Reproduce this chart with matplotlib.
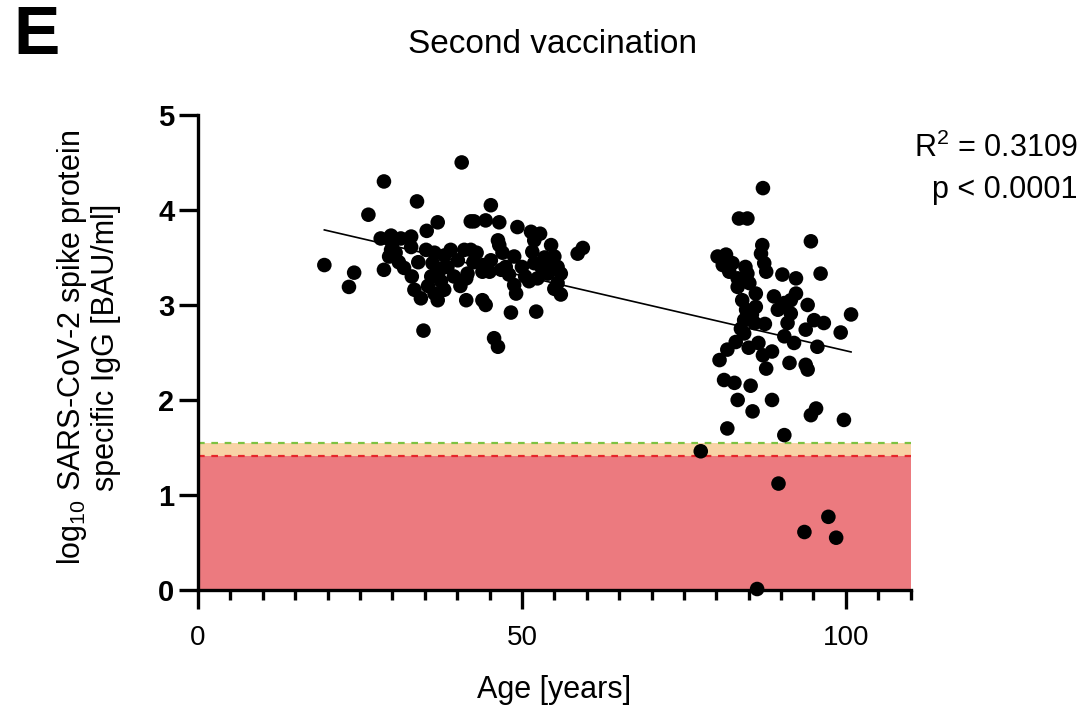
import matplotlib
matplotlib.use('Agg')
import matplotlib.pyplot as plt
from matplotlib.ticker import MultipleLocator
import numpy as np

plt.rcParams['font.family'] = ['Liberation Sans', 'DejaVu Sans']
plt.rcParams['mathtext.fontset'] = 'custom'
plt.rcParams['mathtext.rm'] = 'Liberation Sans'

# Edad (años) y log10 IgG, grupo joven
young_age = [19.5, 23.3, 24.1, 26.3, 28.7, 28.7, 33.8, 40.7, 34.8, 37.0, 35.3, 28.2, 29.8,
             31.3, 32.9, 29.8, 29.5, 31.8, 32.9, 35.2, 36.2, 33.4, 34.4, 36.0, 37.0, 38.0,
             37.5, 39.0, 40.1, 41.1, 41.4, 42.1, 41.6, 45.2, 42.6, 44.4, 46.5, 49.3, 51.4,
             51.9, 46.3, 46.5, 54.5, 59.4, 58.6, 48.8, 51.6, 55.0, 51.9, 42.1, 45.2, 43.9,
             46.8, 41.4, 54.0, 56.0, 51.1, 52.4, 55.5, 48.8, 49.1, 56.0, 43.9, 44.4, 48.3,
             52.2, 45.7, 46.3,
             30.5, 31.0, 33.0, 34.0, 35.5, 36.5, 38.5, 39.5, 40.5, 42.5, 43.0, 44.0, 45.0,
             47.5, 48.0, 50.0, 50.5, 53.0, 53.5, 54.5, 55.5, 38.0, 37.5, 30.0, 47.0, 52.8,
             55.0, 36.5]
young_igg = [3.42, 3.19, 3.34, 3.95, 4.30, 3.37, 4.09, 4.50, 2.73, 3.87, 3.78, 3.70, 3.73,
             3.70, 3.72, 3.58, 3.51, 3.39, 3.61, 3.58, 3.44, 3.16, 3.07, 3.30, 3.05, 3.16,
             3.25, 3.58, 3.47, 3.58, 3.05, 3.88, 3.33, 4.05, 3.88, 3.89, 3.87, 3.82, 3.77,
             3.68, 3.68, 3.63, 3.63, 3.60, 3.54, 3.51, 3.56, 3.51, 3.44, 3.58, 3.47, 3.35,
             3.37, 3.28, 3.33, 3.33, 3.25, 3.28, 3.23, 3.21, 3.12, 3.11, 3.05, 3.00, 2.92,
             2.93, 2.65, 2.56,
             3.55, 3.45, 3.30, 3.45, 3.20, 3.12, 3.40, 3.30, 3.20, 3.45, 3.55, 3.42, 3.35,
             3.40, 3.32, 3.40, 3.30, 3.40, 3.50, 3.42, 3.40, 3.52, 3.38, 3.65, 3.55, 3.75,
             3.17, 3.55]

# Grupo mayor
old_age = [87.2, 83.5, 84.8, 94.6, 87.1, 86.9, 80.2, 81.5, 81.0, 82.5, 87.4, 87.7, 96.1,
           84.8, 90.2, 92.3, 83.3, 83.3, 85.1, 92.3, 86.1, 88.9, 90.5, 94.1, 86.1, 84.6,
           100.8, 91.5, 84.3, 85.9, 95.1, 96.6, 93.8, 91.0, 99.2, 84.3, 90.5, 83.0, 92.0,
           95.6, 81.7, 80.5, 87.2, 88.6, 87.7, 91.3, 93.8, 94.1, 81.2, 82.8, 85.3, 83.3,
           88.6, 85.6, 95.4, 94.6, 99.7, 81.7, 90.5,
           77.6, 89.6, 97.3, 93.6, 98.5, 86.3,
           84.0, 85.5, 83.8, 86.5, 84.5, 82.0, 89.5, 91.5, 87.5, 85.0]
old_igg = [4.23, 3.91, 3.91, 3.67, 3.63, 3.54, 3.51, 3.53, 3.42, 3.44, 3.44, 3.35, 3.33,
           3.33, 3.32, 3.28, 3.28, 3.19, 3.23, 3.12, 3.12, 3.09, 3.02, 3.00, 2.98, 2.95,
           2.90, 2.91, 2.84, 2.81, 2.84, 2.81, 2.74, 2.81, 2.71, 2.70, 2.67, 2.61, 2.60,
           2.56, 2.53, 2.42, 2.47, 2.51, 2.33, 2.39, 2.37, 2.32, 2.21, 2.18, 2.15, 2.00,
           2.00, 1.88, 1.91, 1.84, 1.79, 1.70, 1.63,
           1.46, 1.12, 0.77, 0.61, 0.55, 0.01,
           3.05, 2.90, 2.75, 2.60, 3.40, 3.35, 2.95, 3.05, 2.80, 2.55]

# Regresión lineal y umbrales (log10 de 35.2 y 25.6 BAU/ml)
fit_slope = -0.0158
fit_intercept = 4.098
cut_positive = np.log10(35.2)
cut_negative = np.log10(25.6)

ages = np.array(young_age + old_age)
igg = np.array(young_igg + old_igg)

fig = plt.figure(figsize=(10.88, 7.23), dpi=100)
ax = fig.add_axes([0.182, 0.184, 0.655, 0.657])

ax.axhspan(0, cut_negative, color='#ec7a7f', lw=0, zorder=0)
ax.axhspan(cut_negative, cut_positive, color='#f8d3a6', lw=0, zorder=0)
ax.axhline(cut_positive, color='#7cc242', lw=1.6, ls=(0, (3, 3)), zorder=1)
ax.axhline(cut_negative, color='#e6262b', lw=1.6, ls=(0, (3, 3)), zorder=1)

ax.scatter(ages, igg, s=110, color='black', edgecolors='none', zorder=3, clip_on=False)

xfit = np.array([ages.min(), ages.max()])
ax.plot(xfit, fit_intercept + fit_slope * xfit, color='black', lw=1.2, zorder=4)

ax.set_xlim(0, 110)
ax.set_ylim(0, 5)
for s in ['top', 'right']:
    ax.spines[s].set_visible(False)
for s in ['left', 'bottom']:
    ax.spines[s].set_linewidth(2.4)

ax.xaxis.set_major_locator(MultipleLocator(50))
ax.xaxis.set_minor_locator(MultipleLocator(5))
ax.yaxis.set_major_locator(MultipleLocator(1))
ax.tick_params(axis='x', which='major', length=14, width=2.4, labelsize=20, pad=11)
ax.tick_params(axis='x', which='minor', length=7, width=2.4)
ax.tick_params(axis='y', which='major', length=14, width=2.4, labelsize=21, pad=3)
for lab in ax.get_yticklabels():
    lab.set_fontweight('bold')

ax.set_xlabel('Age [years]', fontsize=22)
ax.xaxis.set_label_coords(0.5, -0.21)
ax.xaxis.label.set_va('center')
ax.set_ylabel('log$_{10}$ SARS-CoV-2 spike protein\nspecific IgG [BAU/ml]',
              fontsize=22, linespacing=1.1)
ax.yaxis.set_label_coords(-0.154, 0.51)
ax.yaxis.label.set_va('center')

fig.text(0.508, 0.938, 'Second vaccination', ha='center', va='center', fontsize=24)
fig.text(0.012, 0.95, 'E', ha='left', va='center', fontsize=50, fontweight='bold')
fig.text(0.99, 0.795, 'R$^2$ = 0.3109', ha='right', va='center', fontsize=22)
fig.text(0.99, 0.737, 'p < 0.0001', ha='right', va='center', fontsize=22)

fig.savefig('out.png', dpi=100, facecolor='white')
plt.close(fig)
